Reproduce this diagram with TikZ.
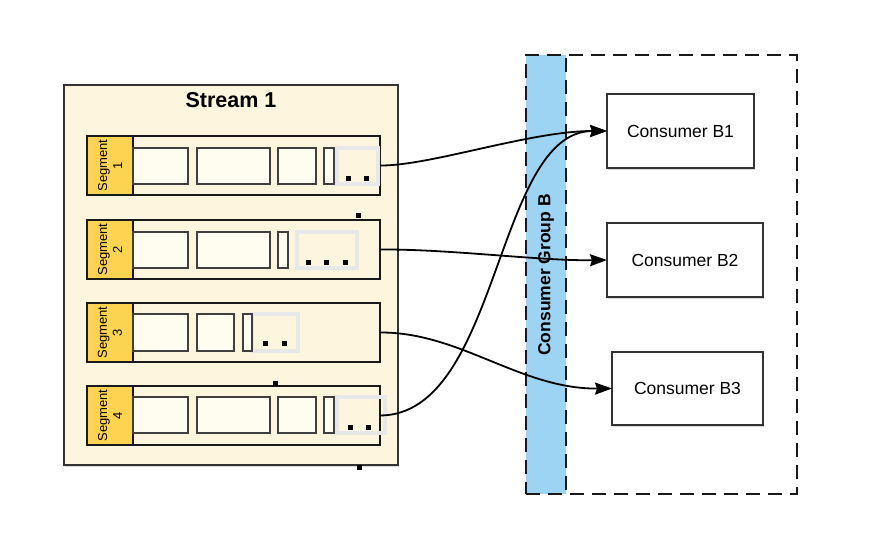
\documentclass[tikz,border=0pt]{standalone}
\usepackage{fontspec}
\setmainfont{Liberation Sans}
\usetikzlibrary{arrows.meta,shadows}

\definecolor{streamfill}{HTML}{FDF5DE}
\definecolor{segyellow}{HTML}{FDD452}
\definecolor{blockfill}{HTML}{FFFDEF}
\definecolor{groupblue}{HTML}{9DD3F3}

\tikzset{
  box/.style={anchor=north west, inner sep=0pt, outer sep=0pt},
  stream/.style={box, draw=black!80, fill=streamfill, line width=1.5pt,
    drop shadow={opacity=0.3, shadow xshift=1pt, shadow yshift=-2pt}},
  segrow/.style={box, draw=black!90, fill=streamfill, line width=1.5pt},
  seglabel/.style={draw=black!90, fill=segyellow, line width=1.5pt, rotate=90, align=center,
    inner sep=0pt, minimum width=59pt, minimum height=46pt,
    font=\fontsize{13}{15}\selectfont},
  block/.style={box, draw=black!75, fill=blockfill, line width=1.5pt, minimum height=36pt,
    drop shadow={opacity=0.25, shadow xshift=-1pt, shadow yshift=-1pt}},
  ghost/.style={box, draw=black!9, line width=3.5pt, minimum height=36pt},
  group/.style={box, draw=black!90, line width=1.5pt, dash pattern=on 14pt off 8pt},
  consumer/.style={box, draw=black!80, fill=white, line width=1.5pt,
    drop shadow={opacity=0.3, shadow xshift=1pt, shadow yshift=-2pt}},
  ctext/.style={font=\fontsize{17.5}{20}\selectfont},
  link/.style={line width=1.8pt, -{Stealth[length=17pt,width=12pt,inset=2pt]}},
}

\begin{document}
\begin{tikzpicture}[x=1pt,y=-1pt]
  \useasboundingbox (0,0) rectangle (890,546);

  % Stream
  \node[stream, minimum width=334pt, minimum height=380pt] (stream) at (64,85) {};
  \node[font=\bfseries\fontsize{21.5}{24}\selectfont] (title) at (231,100) {Stream 1};

  % Segments
  \node[segrow, minimum width=293pt, minimum height=59pt] (seg1) at (87,136) {};
  \node[segrow, minimum width=293pt, minimum height=59pt] (seg2) at (87,220) {};
  \node[segrow, minimum width=293pt, minimum height=59pt] (seg3) at (87,303) {};
  \node[segrow, minimum width=293pt, minimum height=59pt] (seg4) at (87,386) {};
  \node[seglabel] (lab1) at (110,165.5) {Segment\\1};
  \node[seglabel] (lab2) at (110,249.5) {Segment\\2};
  \node[seglabel] (lab3) at (110,332.5) {Segment\\3};
  \node[seglabel] (lab4) at (110,415.5) {Segment\\4};

  % Messages
  \node[ghost, minimum width=41pt] (g1) at (337,148) {};
  \node[block, minimum width=55pt] (m11) at (133,148) {};
  \node[block, minimum width=73pt] (m12) at (197,148) {};
  \node[block, minimum width=38pt] (m13) at (278,148) {};
  \node[block, minimum width=10pt] (m14) at (324,148) {};

  \node[ghost, minimum width=60pt] (g2) at (297,232) {};
  \node[block, minimum width=55pt] (m21) at (133,232) {};
  \node[block, minimum width=73pt] (m22) at (197,232) {};
  \node[block, minimum width=10pt] (m23) at (278,232) {};

  \node[ghost, minimum width=46pt, minimum height=37pt] (g3) at (252,314) {};
  \node[block, minimum width=55pt, minimum height=37pt] (m31) at (133,314) {};
  \node[block, minimum width=37pt, minimum height=37pt] (m32) at (197,314) {};
  \node[block, minimum width=9pt, minimum height=37pt] (m33) at (243,314) {};

  \node[ghost, minimum width=48pt] (g4) at (337,397) {};
  \node[block, minimum width=55pt] (m41) at (133,397) {};
  \node[block, minimum width=73pt] (m42) at (197,397) {};
  \node[block, minimum width=38pt] (m43) at (278,397) {};
  \node[block, minimum width=10pt] (m44) at (324,397) {};

  \fill (348,178) +(-2.5,-2.5) rectangle +(2.5,2.5);
  \fill (366,178) +(-2.5,-2.5) rectangle +(2.5,2.5);
  \fill (308,262) +(-2.5,-2.5) rectangle +(2.5,2.5);
  \fill (326,262) +(-2.5,-2.5) rectangle +(2.5,2.5);
  \fill (345,262) +(-2.5,-2.5) rectangle +(2.5,2.5);
  \fill (265,343) +(-2.5,-2.5) rectangle +(2.5,2.5);
  \fill (284,343) +(-2.5,-2.5) rectangle +(2.5,2.5);
  \fill (350,427) +(-2.5,-2.5) rectangle +(2.5,2.5);
  \fill (368,427) +(-2.5,-2.5) rectangle +(2.5,2.5);
  \fill (358,215) +(-2.5,-2.5) rectangle +(2.5,2.5);
  \fill (275,383) +(-2.5,-2.5) rectangle +(2.5,2.5);
  \fill (359,467) +(-2.5,-2.5) rectangle +(2.5,2.5);

  % Consumer group
  \node[group, fill=groupblue, minimum width=40pt, minimum height=439pt] (stripe) at (526,55) {};
  \node[group, minimum width=271pt, minimum height=439pt] (groupB) at (526,55) {};
  \node[rotate=90, font=\bfseries\fontsize{17.5}{20}\selectfont] (grouplabel) at (546,275) {Consumer Group B};

  \node[consumer, minimum width=147pt, minimum height=74pt] (B1) at (607,94) {};
  \node[consumer, minimum width=156pt, minimum height=74pt] (B2) at (607,223) {};
  \node[consumer, minimum width=151pt, minimum height=73pt] (B3) at (612,352) {};
  \node[ctext] (t1) at (B1.center) {Consumer B1};
  \node[ctext] (t2) at (B2.center) {Consumer B2};
  \node[ctext] (t3) at (B3.center) {Consumer B3};

  % Reads
  \draw[link] (seg1.east) .. controls (430,166) and (530,131) .. (B1.west);
  \draw[link] (seg2.east) .. controls (450,249) and (540,261) .. (B2.west);
  \draw[link] (seg3.east) .. controls (460,332) and (520,389) .. (B3.west);
  \draw[link] (seg4.east) .. controls (500,415) and (495,131) .. (B1.west);
\end{tikzpicture}
\end{document}
